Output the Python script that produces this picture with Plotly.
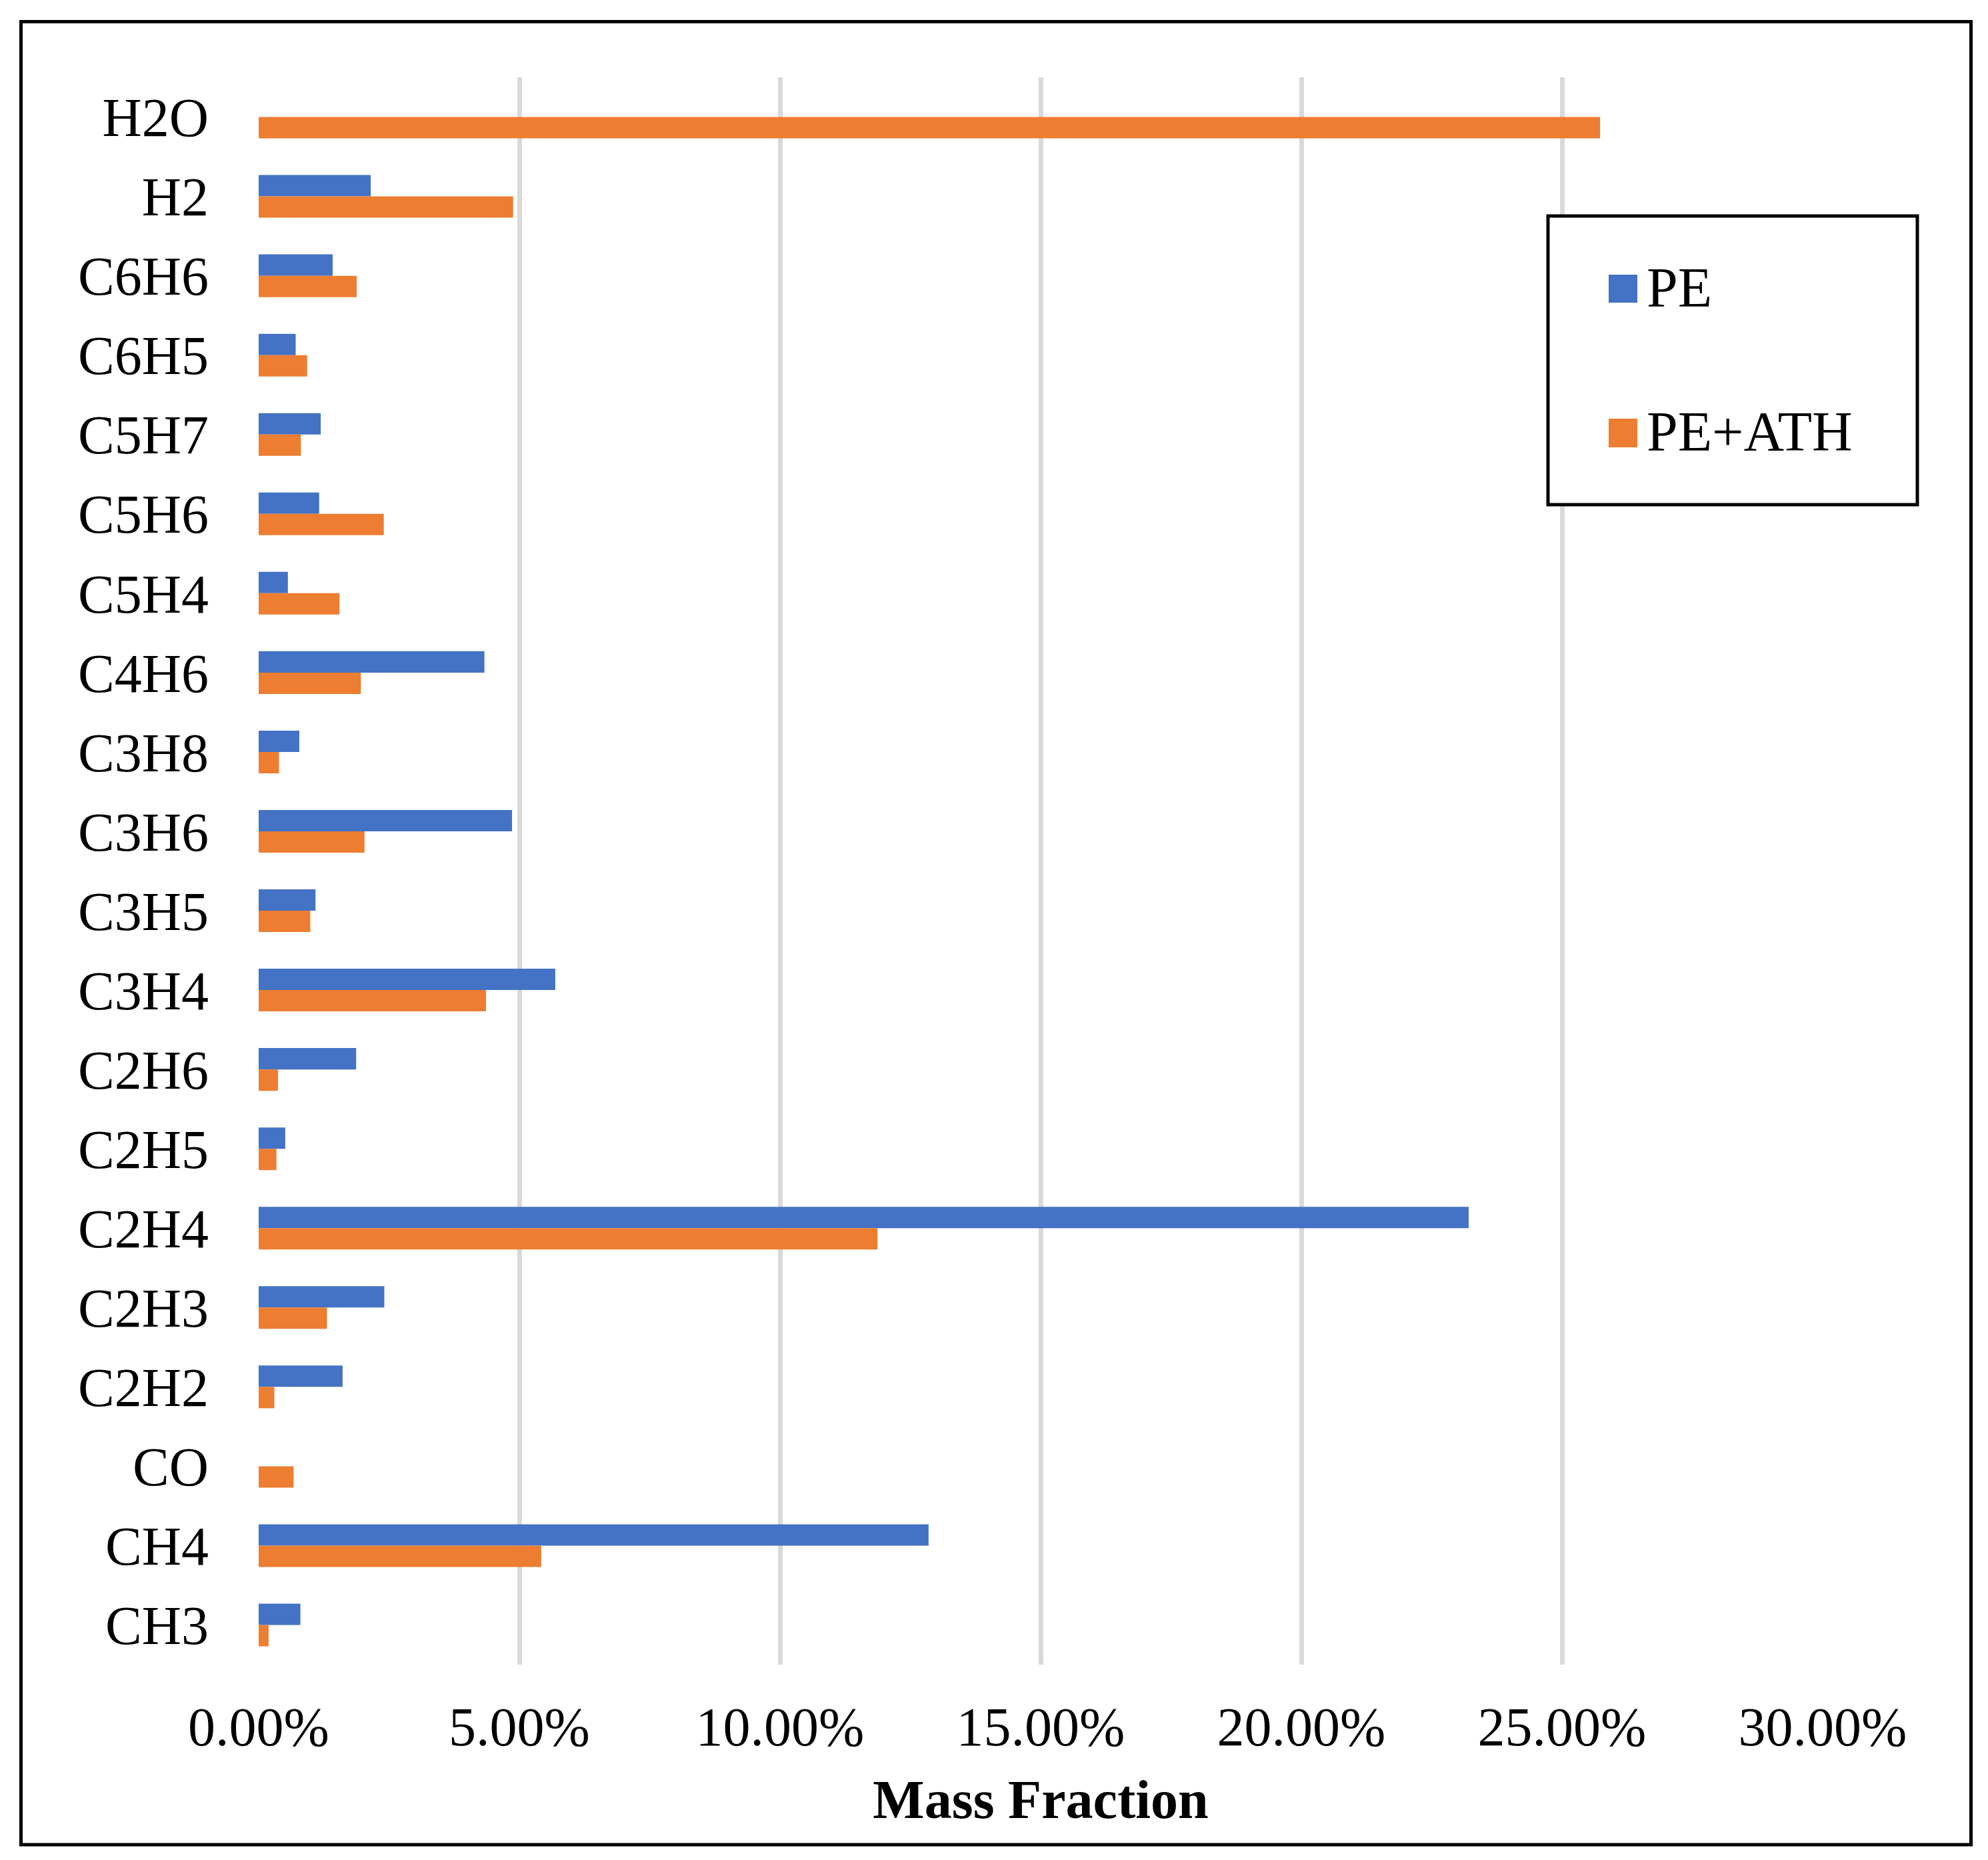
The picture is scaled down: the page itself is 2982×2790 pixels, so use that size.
import plotly.graph_objects as go

# Categories listed top to bottom as in the chart
species = ["H2O", "H2", "C6H6", "C6H5", "C5H7", "C5H6", "C5H4", "C4H6", "C3H8", "C3H6",
           "C3H5", "C3H4", "C2H6", "C2H5", "C2H4", "C2H3", "C2H2", "CO", "CH4", "CH3"]

# Mass fraction in percent
pe_values = [0.0, 2.15, 1.42, 0.71, 1.19, 1.16, 0.56, 4.33, 0.78, 4.86,
             1.09, 5.69, 1.87, 0.51, 23.21, 2.41, 1.61, 0.0, 12.85, 0.80]
pe_ath_values = [25.73, 4.88, 1.88, 0.93, 0.81, 2.40, 1.55, 1.96, 0.39, 2.03,
                 0.99, 4.36, 0.37, 0.34, 11.87, 1.31, 0.30, 0.67, 5.42, 0.19]

series_names = ["PE", "PE+ATH"]
series_colors = ["#4472C4", "#ED7D31"]

x_ticks = [0, 5, 10, 15, 20, 25, 30]
x_tick_labels = [f"{v:.2f}%" for v in x_ticks]

FONT = "Liberation Serif, Times New Roman, serif"

fig = go.Figure()
for name, vals, col in zip(series_names, [pe_values, pe_ath_values], series_colors):
    fig.add_trace(go.Bar(
        y=species, x=vals, name=name, orientation="h",
        marker=dict(color=col, line=dict(width=0)),
        showlegend=False,
    ))

W, H = 2982, 2790
L, R, T, B = 380, 256, 108, 301
pw, ph = W - L - R, H - T - B

def px(x):
    return (x - L) / pw

def py(y):
    return (H - B - y) / ph

shapes = [
    # outer frame
    dict(type="rect", xref="paper", yref="paper",
         x0=px(23.5), x1=px(2948.5), y0=py(2759), y1=py(24.5),
         line=dict(color="black", width=5), fillcolor="rgba(0,0,0,0)", layer="above"),
    # legend box
    dict(type="rect", xref="paper", yref="paper",
         x0=px(2314), x1=px(2868), y0=py(749), y1=py(316),
         line=dict(color="black", width=5), fillcolor="white", layer="above"),
]
annotations = []
legend_rows = [(404, 446), (620, 663)]
for (top, bot), name, col in zip(legend_rows, series_names, series_colors):
    shapes.append(dict(type="rect", xref="paper", yref="paper",
                       x0=px(2405), x1=px(2448), y0=py(bot), y1=py(top),
                       line=dict(width=0), fillcolor=col, layer="above"))
    annotations.append(dict(xref="paper", yref="paper", x=px(2460), y=py((top + bot) / 2 - 2),
                            xanchor="left", yanchor="middle", showarrow=False,
                            text=name, font=dict(family=FONT, size=84, color="black")))

fig.update_layout(
    width=W, height=H,
    margin=dict(l=L, r=R, t=T, b=B, autoexpand=False),
    paper_bgcolor="white", plot_bgcolor="white",
    barmode="group", bargap=0.4624, bargroupgap=0,
    font=dict(family=FONT, size=82, color="black"),
    shapes=shapes, annotations=annotations,
)
fig.update_xaxes(
    range=[0, 30], tickvals=x_ticks, ticktext=x_tick_labels,
    showgrid=True, gridcolor="#D9D9D9", gridwidth=7,
    zeroline=False, showline=False,
    ticks="", ticklabelstandoff=38,
    tickfont=dict(family=FONT, size=82, color="black"),
    title=dict(text="<b>Mass Fraction</b>", font=dict(family=FONT, size=82, color="black"),
               standoff=34),
    automargin=False, fixedrange=True,
)
fig.update_yaxes(
    autorange="reversed", categoryorder="array", categoryarray=species,
    showgrid=False, zeroline=False, showline=False,
    ticks="", ticklabelstandoff=74,
    tickfont=dict(family=FONT, size=82, color="black"),
    automargin=False, fixedrange=True,
)

fig.write_html("out.html", config={"displayModeBar": False})
